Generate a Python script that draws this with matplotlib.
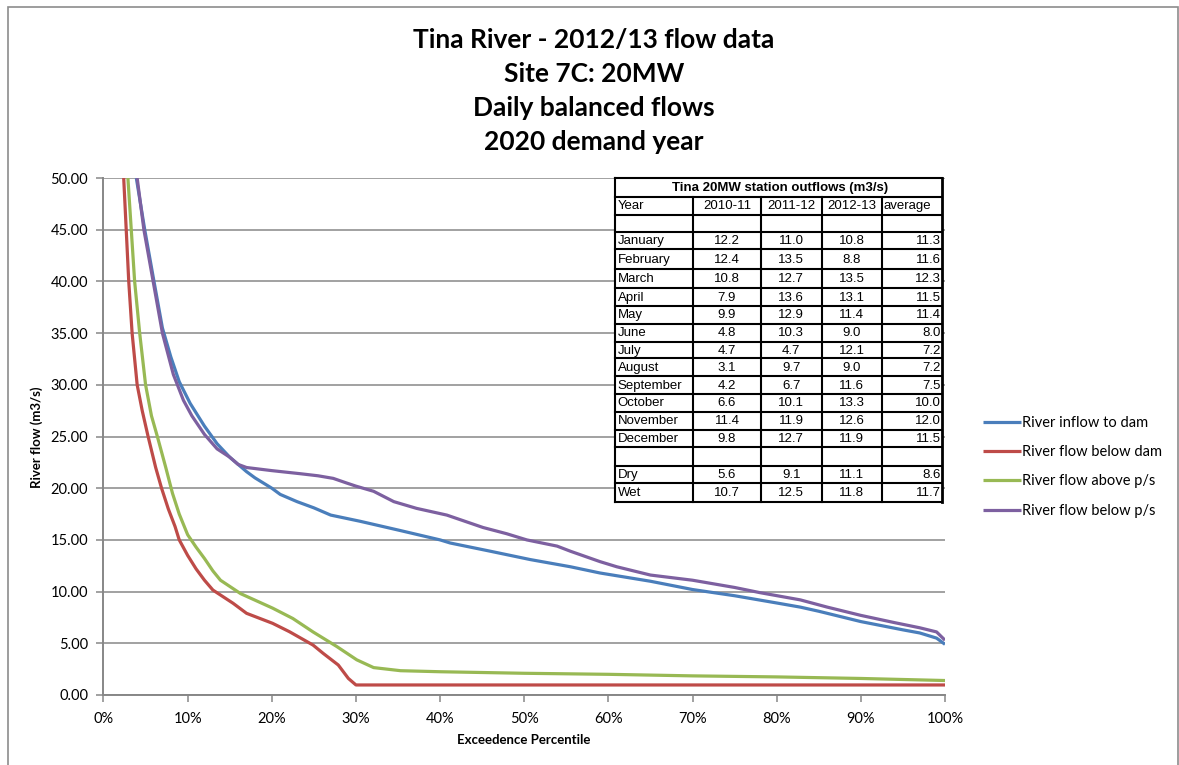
import matplotlib
matplotlib.use("Agg")
import matplotlib.pyplot as plt
from matplotlib.patches import Rectangle
from matplotlib.ticker import FuncFormatter, MultipleLocator

# ---------------- flow duration curves (exceedence %, m3/s) ----------------
inflow_pct = [3.9, 4.9, 6.0, 7.0, 8.0, 9.0, 10.3, 12.0, 13.5, 15.0, 16.0, 17.0, 18.0,
              19.0, 20.0, 21.0, 23.0, 25.0, 27.0, 30.5, 35.3, 40.0, 41.2, 46.0, 50.7,
              55.5, 59.0, 65.0, 70.0, 75.0, 80.0, 82.8, 85.0, 90.0, 95.0, 97.0, 99.0, 100.0]
inflow_flow = [50.0, 45.0, 40.0, 35.5, 32.7, 30.3, 28.2, 26.0, 24.3, 23.0, 22.3, 21.6, 21.0,
               20.5, 20.0, 19.4, 18.7, 18.1, 17.4, 16.8, 15.9, 15.0, 14.7, 13.9, 13.1,
               12.4, 11.8, 11.0, 10.2, 9.6, 8.9, 8.5, 8.1, 7.1, 6.3, 6.0, 5.5, 4.9]

below_dam_pct = [2.4, 2.7, 3.0, 3.4, 4.0, 4.6, 5.3, 6.2, 6.9, 7.7, 8.5, 9.0, 10.0, 11.0,
                 12.0, 13.0, 15.4, 17.0, 20.1, 22.1, 24.9, 26.1, 27.9, 29.1, 30.0, 100.0]
below_dam_flow = [50.0, 45.0, 40.0, 35.0, 30.0, 27.5, 25.0, 22.0, 20.0, 18.0, 16.3, 15.0,
                  13.5, 12.2, 11.1, 10.15, 8.87, 7.9, 6.93, 6.12, 4.83, 4.03, 2.9, 1.6,
                  0.97, 0.97]

above_ps_pct = [2.9, 3.3, 3.7, 4.3, 5.0, 5.7, 6.4, 7.4, 8.2, 9.0, 10.0, 11.0, 12.0, 13.0,
                13.9, 16.3, 20.1, 22.5, 24.9, 27.7, 30.1, 32.1, 35.3, 40.0, 50.0, 60.0,
                70.0, 80.0, 90.0, 100.0]
above_ps_flow = [50.0, 45.0, 40.0, 35.0, 30.0, 27.0, 25.0, 22.0, 19.5, 17.5, 15.5, 14.3,
                 13.2, 12.0, 11.1, 9.8, 8.4, 7.4, 6.1, 4.7, 3.4, 2.65, 2.35, 2.25, 2.1,
                 2.0, 1.85, 1.75, 1.6, 1.4]

below_ps_pct = [4.0, 4.8, 5.9, 7.0, 8.3, 9.5, 10.5, 12.0, 13.5, 15.0, 16.0, 17.0, 20.0,
                23.4, 25.5, 27.3, 28.9, 30.0, 32.1, 34.5, 37.2, 40.8, 45.1, 47.9, 50.3,
                53.9, 55.5, 59.0, 61.0, 65.0, 70.0, 75.0, 78.0, 82.8, 86.0, 90.0, 94.0,
                97.0, 99.0, 100.0]
below_ps_flow = [50.0, 45.0, 40.0, 35.0, 31.0, 28.5, 27.0, 25.2, 23.8, 23.0, 22.3, 22.0, 21.7,
                 21.4, 21.2, 20.95, 20.5, 20.2, 19.7, 18.7, 18.05, 17.4, 16.2, 15.6, 15.0,
                 14.4, 13.9, 12.9, 12.4, 11.6, 11.1, 10.4, 9.9, 9.2, 8.5, 7.7, 7.0,
                 6.5, 6.1, 5.3]

series_labels = ["River inflow to dam", "River flow below dam",
                 "River flow above p/s", "River flow below p/s"]
series_colors = ["#4A7EBB", "#BE4B48", "#98B954", "#7D60A0"]

title_lines = ["Tina River - 2012/13 flow data", "Site 7C: 20MW",
               "Daily balanced flows", "2020 demand year"]

# ---------------- station outflow table ----------------
table_title = "Tina 20MW station outflows (m3/s)"
table_years = ["2010-11", "2011-12", "2012-13", "average"]
table_rows = ["January", "February", "March", "April", "May", "June", "July",
              "August", "September", "October", "November", "December"]
outflow_2010_11 = [12.2, 12.4, 10.8, 7.9, 9.9, 4.8, 4.7, 3.1, 4.2, 6.6, 11.4, 9.8]
outflow_2011_12 = [11.0, 13.5, 12.7, 13.6, 12.9, 10.3, 4.7, 9.7, 6.7, 10.1, 11.9, 12.7]
outflow_2012_13 = [10.8, 8.8, 13.5, 13.1, 11.4, 9.0, 12.1, 9.0, 11.6, 13.3, 12.6, 11.9]
outflow_average = [11.3, 11.6, 12.3, 11.5, 11.4, 8.0, 7.2, 7.2, 7.5, 10.0, 12.0, 11.5]
season_rows = ["Dry", "Wet"]
season_2010_11 = [5.6, 10.7]
season_2011_12 = [9.1, 12.5]
season_2012_13 = [11.1, 11.8]
season_average = [8.6, 11.7]

W, H = 1179, 765
fig = plt.figure(figsize=(W / 100, H / 100), dpi=100)
fig.patch.set_facecolor("white")

UI_FONT = ["Lato", "DejaVu Sans"]
TABLE_FONT = ["Liberation Sans", "DejaVu Sans"]
GRID = "#878787"


def fx(px):
    return px / W


def fy(py):
    return 1 - py / H


# chart area border
fig.patches.append(Rectangle((fx(8), fy(H + 10)), fx(1177.5) - fx(8), fy(7) - fy(H + 10),
                             transform=fig.transFigure, fill=False,
                             edgecolor="#8C8C8C", linewidth=1.2, zorder=0))

ax = fig.add_axes([fx(103.5), fy(695), fx(945) - fx(103.5), fy(178) - fy(695)])
ax.set_xlim(0, 1)
ax.set_ylim(0, 50)

pairs = [(inflow_pct, inflow_flow), (below_dam_pct, below_dam_flow),
         (above_ps_pct, above_ps_flow), (below_ps_pct, below_ps_flow)]
for (pct, flow), lab, col in zip(pairs, series_labels, series_colors):
    ax.plot([p / 100 for p in pct], flow, color=col, lw=2.3, label=lab,
            solid_joinstyle="round", solid_capstyle="butt", zorder=3)

ax.yaxis.set_major_locator(MultipleLocator(5))
ax.xaxis.set_major_locator(MultipleLocator(0.1))
ax.yaxis.set_major_formatter(FuncFormatter(lambda v, _: f"{v:.2f}"))
ax.xaxis.set_major_formatter(FuncFormatter(lambda v, _: f"{v * 100:.0f}%"))
ax.grid(axis="y", color=GRID, lw=1.1, zorder=1)
ax.set_axisbelow(True)
for s in ("top", "right"):
    ax.spines[s].set_visible(False)
for s in ("left", "bottom"):
    ax.spines[s].set_color(GRID)
    ax.spines[s].set_linewidth(1.4)
ax.tick_params(axis="both", direction="out", length=5, width=1.1, color=GRID,
               labelsize=10.5, labelcolor="black")
ax.tick_params(axis="y", pad=6)
ax.tick_params(axis="x", pad=7)
for lbl in ax.get_xticklabels() + ax.get_yticklabels():
    lbl.set_family(UI_FONT)

fig.text(fx(37), fy(437), "River flow (m3/s)", rotation=90, ha="center", va="center",
         fontsize=9.5, fontweight="bold", family=UI_FONT)
fig.text(fx(524), fy(740), "Exceedence Percentile", ha="center", va="center",
         fontsize=9.5, fontweight="bold", family=UI_FONT)

for line, ypx in zip(title_lines, [40, 74, 108, 142]):
    fig.text(fx(594), fy(ypx), line, ha="center", va="center", fontsize=19,
             fontweight="bold", family=UI_FONT)

leg = ax.legend(loc="upper left", bbox_to_anchor=(fx(977), fy(410)),
                bbox_transform=fig.transFigure, frameon=False,
                handlelength=2.6, handletextpad=0.1, labelspacing=1.05,
                borderaxespad=0, prop={"family": UI_FONT, "size": 10.5})

# ---------------- outflow table, drawn in pixel coordinates ----------------
tab = fig.add_axes([0, 0, 1, 1], zorder=5)
tab.set_xlim(0, W)
tab.set_ylim(H, 0)
tab.axis("off")
tab.patch.set_alpha(0)

row_edges = [178, 196.7, 215, 231.7, 249, 269, 288.3, 305.7, 324, 341.7, 358.3, 376,
             394, 411.7, 430, 447.3, 466, 483.3, 501.7]
col_edges = [614.5, 693, 761, 821.5, 881.5, 942]
tab.add_patch(Rectangle((col_edges[0], row_edges[0]), col_edges[-1] - col_edges[0],
                        row_edges[-1] - row_edges[0], facecolor="white",
                        edgecolor="none", zorder=1))
for yy in row_edges:
    tab.plot([col_edges[0], col_edges[-1]], [yy, yy], color="black", lw=1.5,
             solid_capstyle="projecting", zorder=2)
for i, xx in enumerate(col_edges):
    y0 = row_edges[0] if i in (0, len(col_edges) - 1) else row_edges[1]
    tab.plot([xx, xx], [y0, row_edges[-1]], color="black",
             lw=2.0 if i == len(col_edges) - 1 else 1.5,
             solid_capstyle="projecting", zorder=2)

centres = [(row_edges[i] + row_edges[i + 1]) / 2 + 0.5 for i in range(len(row_edges) - 1)]
tkw = dict(fontsize=9.5, family=TABLE_FONT, va="center", zorder=3)
tab.text((col_edges[0] + col_edges[-1]) / 2 + 2, centres[0], table_title,
         ha="center", fontweight="bold", **tkw)
tab.text(col_edges[0] + 3, centres[1], "Year", ha="left", **tkw)
for j, yr in enumerate(table_years):
    if j < 3:
        tab.text((col_edges[j + 1] + col_edges[j + 2]) / 2, centres[1], yr, ha="center", **tkw)
    else:
        tab.text(col_edges[j + 1] + 2, centres[1], yr, ha="left", **tkw)


def put_row(r, name, a, b, c, avg):
    tab.text(col_edges[0] + 3, centres[r], name, ha="left", **tkw)
    for j, v in enumerate([a, b, c]):
        tab.text((col_edges[j + 1] + col_edges[j + 2]) / 2, centres[r], f"{v:.1f}",
                 ha="center", **tkw)
    tab.text(col_edges[-1] - 1.5, centres[r], f"{avg:.1f}", ha="right", **tkw)


for k, name in enumerate(table_rows):
    put_row(3 + k, name, outflow_2010_11[k], outflow_2011_12[k], outflow_2012_13[k],
            outflow_average[k])
for k, name in enumerate(season_rows):
    put_row(16 + k, name, season_2010_11[k], season_2011_12[k], season_2012_13[k],
            season_average[k])

fig.savefig("out.png", dpi=100, facecolor="white")
